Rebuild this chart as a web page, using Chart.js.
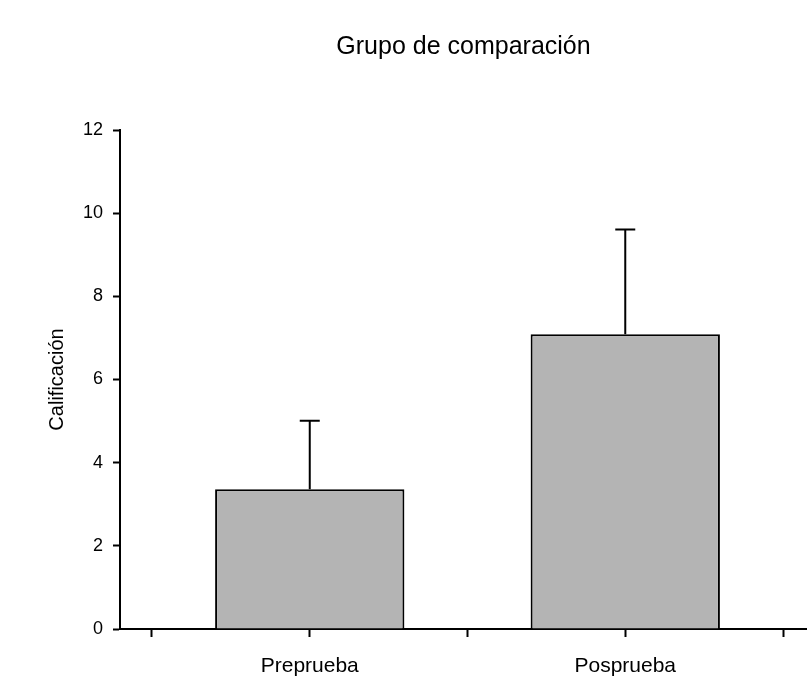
<!DOCTYPE html>
<html>
<head>
<meta charset="utf-8">
<title>Grupo de comparación</title>
<script src="https://cdn.jsdelivr.net/npm/chart.js@4/dist/chart.umd.min.js"></script>
<style>
  body { margin: 0; background: #fff; }
  canvas { display: block; }
</style>
</head>
<body>
<canvas id="chart" width="807" height="679"></canvas>
<script>
// data
var categories = ["Preprueba", "Posprueba"];
var catPositions = [1, 2];
var means = [3.36, 7.09];
var errors = [1.65, 2.52];
var xTickValues = [0.5, 1, 1.5, 2, 2.5];
var yTickStep = 2;

var FONT = "'Liberation Sans', Arial, sans-serif";

// bars as {x, y} points on a linear x scale
var barPoints = catPositions.map(function (x, i) {
    return { x: x, y: means[i] };
});

// draws the upper half error bar with a cap on each bar
var errorBarPlugin = {
    id: 'errorBars',
    afterDatasetsDraw: function (chart) {
        var xs = chart.scales.x;
        var ys = chart.scales.y;
        var c = chart.ctx;
        c.save();
        c.strokeStyle = '#000';
        c.lineWidth = 2;
        for (var i = 0; i < means.length; i++) {
            var px = xs.getPixelForValue(catPositions[i]);
            var yBase = ys.getPixelForValue(means[i]);
            var yTop = ys.getPixelForValue(means[i] + errors[i]);
            c.beginPath();
            c.moveTo(px, yBase);
            c.lineTo(px, yTop);
            c.moveTo(px - 10, yTop);
            c.lineTo(px + 10, yTop);
            c.stroke();
        }
        c.restore();
    }
};

var ctx = document.getElementById('chart').getContext('2d');
var chart = new Chart(ctx, {
    type: 'bar',
    data: {
        datasets: [{
            data: barPoints,
            backgroundColor: '#b4b4b4',
            borderColor: '#000',
            borderWidth: 2,
            categoryPercentage: 1.0,
            barPercentage: 1.2
        }]
    },
    options: {
        responsive: false,
        animation: false,
        layout: { padding: 0 },
        plugins: {
            legend: { display: false },
            tooltip: { enabled: false },
            title: {
                display: true,
                text: 'Grupo de comparación',
                fullSize: false,
                color: '#000',
                font: { family: FONT, size: 25, weight: 'normal' },
                padding: { top: 32, bottom: 68 }
            }
        },
        scales: {
            x: {
                type: 'linear',
                offset: false,
                min: 0.3986,
                max: 2.576,
                afterBuildTicks: function (scale) {
                    scale.ticks = xTickValues.map(function (v) { return { value: v }; });
                },
                afterFit: function (scale) { scale.height = 50; },
                grid: {
                    offset: false,
                    drawOnChartArea: false,
                    tickLength: 8,
                    tickColor: '#000',
                    tickWidth: 2
                },
                border: { display: true, color: '#000', width: 2 },
                ticks: {
                    autoSkip: false,
                    maxRotation: 0,
                    color: '#000',
                    padding: 17,
                    font: { family: FONT, size: 21 },
                    callback: function (value) {
                        var idx = catPositions.indexOf(value);
                        return idx >= 0 ? categories[idx] : '';
                    }
                }
            },
            y: {
                min: 0,
                max: 12,
                afterFit: function (scale) { scale.width = 120; },
                grid: {
                    drawOnChartArea: false,
                    tickLength: 7,
                    tickColor: '#000',
                    tickWidth: 2
                },
                border: { display: true, color: '#000', width: 2 },
                ticks: {
                    stepSize: yTickStep,
                    color: '#000',
                    padding: 10,
                    font: { family: FONT, size: 18 }
                },
                title: {
                    display: true,
                    text: 'Calificación',
                    color: '#000',
                    font: { family: FONT, size: 20 },
                    padding: { top: 45, bottom: 0 }
                }
            }
        }
    },
    plugins: [errorBarPlugin]
});
</script>
</body>
</html>
